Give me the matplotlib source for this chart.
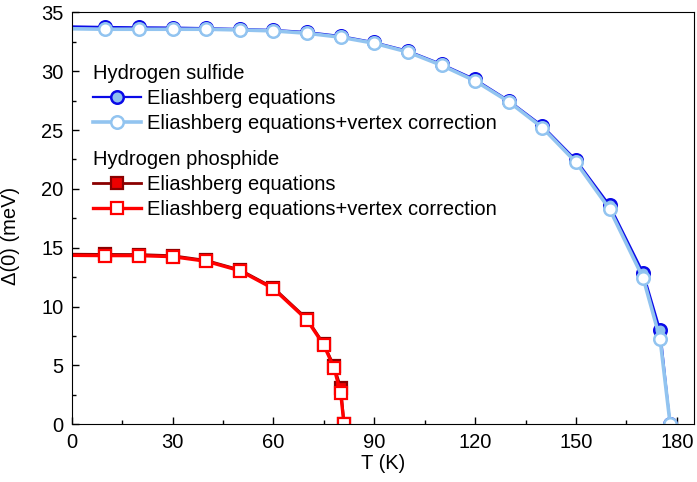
import matplotlib.pyplot as plt
from matplotlib.ticker import MultipleLocator

plt.rcParams['font.family'] = ['Liberation Sans', 'DejaVu Sans']

# Hydrogen sulfide
t_s = [0, 10, 20, 30, 40, 50, 60, 70, 80, 90, 100, 110, 120, 130, 140, 150, 160, 170, 175, 178]
d_s = [33.8, 33.75, 33.72, 33.7, 33.65, 33.58, 33.5, 33.32, 32.98, 32.45, 31.72, 30.6, 29.3, 27.5,
       25.35, 22.45, 18.6, 12.85, 8.0, 0.0]
d_s_vc = [33.6, 33.56, 33.56, 33.56, 33.56, 33.5, 33.42, 33.22, 32.88, 32.37, 31.62, 30.5, 29.17, 27.4,
          25.2, 22.25, 18.27, 12.4, 7.25, 0.0]

# Hydrogen phosphide
t_p = [0, 10, 20, 30, 40, 50, 60, 70, 75, 78, 80, 81]
d_p = [14.45, 14.43, 14.42, 14.32, 13.92, 13.12, 11.6, 8.95, 6.8, 4.95, 3.1, 0.0]
d_p_vc = [14.35, 14.33, 14.33, 14.24, 13.85, 13.05, 11.52, 8.86, 6.71, 4.81, 2.63, 0.0]

fs = 14.5

fig = plt.figure(figsize=(6.97, 4.82), dpi=100)
ax = fig.add_axes([0.1029, 0.1197, 0.8924, 0.8548])

mk = list(range(1, len(t_s)))
l1, = ax.plot(t_s, d_s, color='#0a0ae8', lw=1.6, marker='o', ms=9, mfc='#8fc0ee', mec='#0a0ae8',
              mew=1.8, markevery=mk, label='Eliashberg equations')
l2, = ax.plot(t_s, d_s_vc, color='#92c4f0', lw=2.6, marker='o', ms=9, mfc='white', mec='#92c4f0',
              mew=1.8, markevery=mk, label='Eliashberg equations+vertex correction')

mk = list(range(1, len(t_p)))
l3, = ax.plot(t_p, d_p, color='#8a0000', lw=2.0, marker='s', ms=8, mfc='#ee0000', mec='#8a0000',
              mew=1.6, markevery=mk, label='Eliashberg equations')
l4, = ax.plot(t_p, d_p_vc, color='#ff0000', lw=2.4, marker='s', ms=8, mfc='white', mec='#ff0000',
              mew=1.6, markevery=mk, label='Eliashberg equations+vertex correction')

ax.set_xlim(0, 185)
ax.set_ylim(0, 35)
ax.xaxis.set_major_locator(MultipleLocator(30))
ax.xaxis.set_minor_locator(MultipleLocator(15))
ax.yaxis.set_major_locator(MultipleLocator(5))
ax.yaxis.set_minor_locator(MultipleLocator(2.5))
ax.tick_params(which='both', direction='in', labelsize=fs, width=1)
ax.tick_params(which='major', length=5, pad=6)
ax.tick_params(which='minor', length=3)
ax.set_xlabel('T (K)', fontsize=fs, labelpad=2)
ax.set_ylabel('Δ(0) (meV)', fontsize=fs)
ax.yaxis.set_label_coords(-0.083, 0.456)

leg_kw = dict(loc='upper left', frameon=False, fontsize=fs, title_fontsize=fs, alignment='left',
              handlelength=2.4, handletextpad=0.3, labelspacing=0.3, borderaxespad=0, borderpad=0)
leg1 = ax.legend([l1, l2], [l1.get_label(), l2.get_label()], title='Hydrogen sulfide',
                 bbox_to_anchor=(0.034, 0.874), **leg_kw)
ax.add_artist(leg1)
ax.legend([l3, l4], [l3.get_label(), l4.get_label()], title='Hydrogen phosphide',
          bbox_to_anchor=(0.034, 0.666), **leg_kw)

fig.savefig('out.png', dpi=100)
